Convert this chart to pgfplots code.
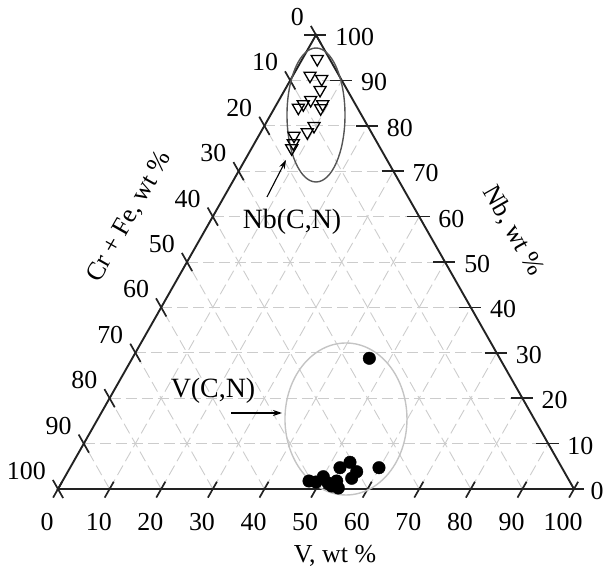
\documentclass[border=0pt]{standalone}
\usepackage{pgfplots}
\usepackage{pgfplotstable}
\pgfplotsset{compat=1.18}
\usetikzlibrary{arrows.meta}
\usepackage{fontspec}
\setmainfont{Liberation Serif}
\definecolor{edge}{HTML}{222222}
\definecolor{gridc}{HTML}{CCCCCC}
\definecolor{ellnb}{HTML}{555555}
\definecolor{ellv}{HTML}{C4C4C4}
\tikzset{
  gridl/.style={gridc, line width=0.9pt, dash pattern=on 11bp off 5bp},
  tk/.style={edge, line width=1.7pt},
}

% Nb(C,N) particles: V, Nb (wt %)
\pgfplotstableread{
V Nb
2.89 94.71
3.32 91.04
5.95 90.31
6.84 87.89
6.13 85.68
5.17 84.74
4.58 83.99
8.93 84.74
8.98 83.85
9.63 79.96
9.03 78.57
6.83 77.82
7.53 76.15
7.77 75.04
}\nbdata

% V(C,N) particles: V, Nb (wt %)
\pgfplotstableread{
V Nb
45.94 28.79
59.86 4.69
53.65 5.88
52.30 4.69
55.98 3.81
55.74 2.36
50.06 2.71
49.23 1.54
47.76 1.76
53.13 1.76
52.71 0.66
54.21 0.22
51.67 1.32
}\vdata

\begin{document}
\begin{tikzpicture}[font=\fontsize{26}{30}\selectfont]
\begin{axis}[
  at={(0,0)}, anchor=origin,
  xmin=0, xmax=100, ymin=0, ymax=100,
  width=516bp, height=454bp, scale only axis,
  hide axis, clip=false,
]
% grid
\pgfplotsinvokeforeach{10,20,...,90}{
  \draw[gridl] (axis cs:{#1/2},#1) -- (axis cs:{100-#1/2},#1);
  \draw[gridl] (axis cs:#1,0) -- (axis cs:{#1+(100-#1)/2},{100-#1});
  \draw[gridl] (axis cs:#1,0) -- (axis cs:{#1/2},#1);
}
% triangle
\draw[edge, line width=1.9pt] (axis cs:0,0) -- (axis cs:100,0) -- (axis cs:50,100) -- cycle;
% ticks
\pgfplotsinvokeforeach{0,10,...,100}{
  \draw[tk] (axis cs:{#1-0.95},-1.9) -- (axis cs:{#1+0.8},1.6);
  \draw[tk] (axis cs:{#1/2+1},{#1-2}) -- (axis cs:{#1/2-1},{#1+2});
  \draw[tk] (axis cs:{100-#1/2-2.3},#1) -- (axis cs:{100-#1/2+2.0},#1);
  \node[inner sep=0pt] at (axis cs:{#1-2.1},-7.3) {#1};
  \node[inner sep=0pt, anchor=east] at (axis cs:{(100-#1)/2-2.33},{100-#1+3.96}) {#1};
}
\pgfplotsinvokeforeach{10,20,...,100}{
  \node[inner sep=0pt, anchor=west] at (axis cs:{100-#1/2+3.7},{#1-0.45}) {#1};
}
\node[inner sep=0pt, anchor=west] at (axis cs:103.2,-0.45) {0};
% axis titles
\node[inner sep=0pt] at (axis cs:53.68,-14.76) {V, wt \%};
\node[inner sep=0pt, rotate=60.4] at (axis cs:13.9,59.9) {Cr + Fe, wt \%};
\node[inner sep=0pt, rotate=-60.4] at (axis cs:88.2,56.8) {Nb, wt \%};
% ellipses
\draw[ellnb, line width=1.4pt] (axis cs:50,82.38) ellipse [x radius=29bp, y radius=67bp];
\draw[ellv, line width=1.4pt] (axis cs:55.81,15.42) ellipse [x radius=61bp, y radius=76bp];
% annotations
\node[inner sep=0pt, font=\fontsize{28}{32}\selectfont] at (axis cs:45.35,58.81) {Nb(C,N)};
\draw[black, line width=1.1pt, -{Stealth[length=9bp,width=6bp]}] (axis cs:40.50,64.32) -- (axis cs:44.19,72.47);
\node[inner sep=0pt, font=\fontsize{28}{32}\selectfont] at (axis cs:30.04,21.59) {V(C,N)};
\draw[black, line width=1.1pt, -{Stealth[length=9bp,width=6bp]}] (axis cs:33.53,16.74) -- (axis cs:43.41,16.74);
% data
\addplot[only marks, mark=triangle, mark size=7pt,
  mark options={rotate=180, black, line width=1.3pt, fill=white}]
  table[x expr=\thisrow{V}+0.5*\thisrow{Nb}, y=Nb]{\nbdata};
\addplot[only marks, mark=*, mark size=6.3pt, mark options={black, fill=black}]
  table[x expr=\thisrow{V}+0.5*\thisrow{Nb}, y=Nb]{\vdata};
\end{axis}
\pgfresetboundingbox
\path (-58bp,-80bp) rectangle (546bp,489bp);
\end{tikzpicture}
\end{document}
